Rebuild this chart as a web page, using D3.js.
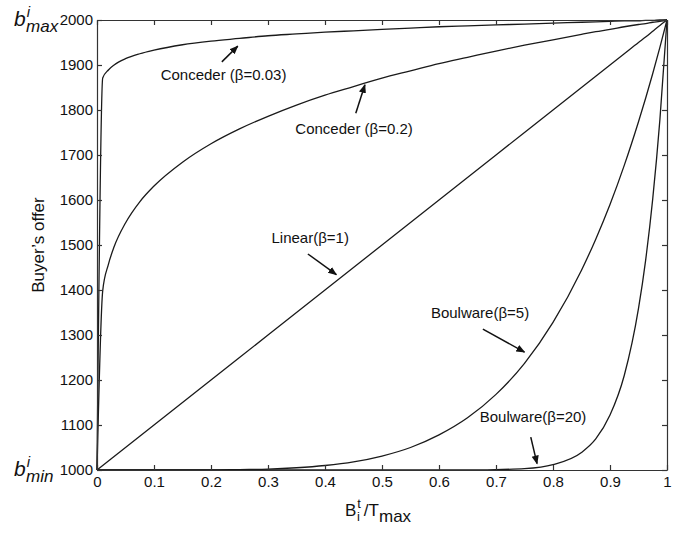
<!DOCTYPE html>
<html>
<head>
<meta charset="utf-8">
<script src="https://cdn.jsdelivr.net/npm/d3@7"></script>
<style>
  body { margin: 0; background: #fff; }
  svg { font-family: "Liberation Sans", Arial, Helvetica, sans-serif; }
  .tick text { font-size: 15px; fill: #111; }
  .axis path, .axis line { stroke: #333; stroke-width: 1.2; }
</style>
</head>
<body>
<svg width="688" height="534"></svg>
<script>
// time fraction B_i^t / T_max (sample points)
const ts = [0, 0.01, 0.02, 0.03, 0.05, 0.075, 0.1, 0.15, 0.2, 0.25, 0.3, 0.35, 0.4, 0.45, 0.5,
  0.55, 0.6, 0.65, 0.7, 0.75, 0.8, 0.85, 0.875, 0.9, 0.925, 0.95, 0.9625, 0.975, 0.9875, 1];

// buyer's offer
const conceder003 = [1000, 1871, 1889, 1900, 1914, 1925, 1933, 1945, 1953, 1959, 1965, 1969, 1973, 1976, 1979,
  1982, 1985, 1987, 1989, 1991, 1993, 1995, 1996, 1997, 1998, 1998, 1999, 1999, 2000, 2000];
const conceder02 = [1000, 1398, 1457, 1496, 1549, 1596, 1631, 1684, 1725, 1758, 1786, 1811, 1833, 1852, 1871,
  1887, 1903, 1917, 1931, 1944, 1956, 1968, 1974, 1979, 1985, 1990, 1992, 1995, 1997, 2000];
const linear1 = [1000, 1010, 1020, 1030, 1050, 1075, 1100, 1150, 1200, 1250, 1300, 1350, 1400, 1450, 1500,
  1550, 1600, 1650, 1700, 1750, 1800, 1850, 1875, 1900, 1925, 1950, 1962, 1975, 1988, 2000];
const boulware5 = [1000, 1000, 1000, 1000, 1000, 1000, 1000, 1000, 1000, 1001, 1002, 1005, 1010, 1018, 1031,
  1050, 1078, 1116, 1168, 1237, 1328, 1444, 1513, 1590, 1677, 1774, 1826, 1881, 1939, 2000];
const boulware20 = [1000, 1000, 1000, 1000, 1000, 1000, 1000, 1000, 1000, 1000, 1000, 1000, 1000, 1000, 1000,
  1000, 1000, 1000, 1001, 1003, 1012, 1039, 1069, 1122, 1210, 1359, 1466, 1603, 1778, 2000];

const xTicks = [0, 0.1, 0.2, 0.3, 0.4, 0.5, 0.6, 0.7, 0.8, 0.9, 1];
const yTicks = [1000, 1100, 1200, 1300, 1400, 1500, 1600, 1700, 1800, 1900, 2000];

// annotation: label centre and arrow (from -> to), in data units
const notes = [
  { text: "Conceder (\u03b2=0.03)", x: 0.222, y: 1878, ax: [0.219, 1907], bx: [0.247, 1942] },
  { text: "Conceder (\u03b2=0.2)", x: 0.451, y: 1760, ax: [0.454, 1793], bx: [0.470, 1856] },
  { text: "Linear(\u03b2=1)", x: 0.374, y: 1516, ax: [0.370, 1480], bx: [0.420, 1434] },
  { text: "Boulware(\u03b2=5)", x: 0.672, y: 1349, ax: [0.677, 1313], bx: [0.750, 1262] },
  { text: "Boulware(\u03b2=20)", x: 0.765, y: 1118, ax: [0.761, 1073], bx: [0.772, 1014] },
];

const svg = d3.select("svg");
const margin = { left: 97, right: 21, top: 20, bottom: 64 };
const W = 688, H = 534;

const x = d3.scaleLinear().domain([0, 1]).range([margin.left, W - margin.right]);
const y = d3.scaleLinear().domain([1000, 2000]).range([H - margin.bottom, margin.top]);

// arrow marker
svg.append("defs").append("marker")
  .attr("id", "arrow")
  .attr("viewBox", "0 0 10 10")
  .attr("refX", 9).attr("refY", 5)
  .attr("markerWidth", 9).attr("markerHeight", 9)
  .attr("markerUnits", "userSpaceOnUse")
  .attr("orient", "auto")
  .append("path")
  .attr("d", "M0,1 L10,5 L0,9 Z")
  .attr("fill", "#111");

// curves
const line = d3.line()
  .x((d, i) => x(ts[i]))
  .y((d) => y(d))
  .curve(d3.curveMonotoneX);

[conceder003, conceder02, linear1, boulware5, boulware20].forEach((s) => {
  svg.append("path")
    .attr("d", line(s))
    .attr("fill", "none")
    .attr("stroke", "#1a1a1a")
    .attr("stroke-width", 1.3);
});

// axes (ticks point inward, box all round)
svg.append("g").attr("class", "axis")
  .attr("transform", `translate(0,${y(1000)})`)
  .call(d3.axisBottom(x).tickValues(xTicks).tickSize(-5).tickSizeOuter(0).tickPadding(6)
    .tickFormat(d3.format("")));
svg.append("g").attr("class", "axis")
  .attr("transform", `translate(0,${y(2000)})`)
  .call(d3.axisTop(x).tickValues(xTicks).tickSize(-5).tickSizeOuter(0).tickFormat(""));
svg.append("g").attr("class", "axis")
  .attr("transform", `translate(${x(0)},0)`)
  .call(d3.axisLeft(y).tickValues(yTicks).tickSize(-5).tickSizeOuter(0).tickPadding(4)
    .tickFormat(d3.format("d")));
svg.append("g").attr("class", "axis")
  .attr("transform", `translate(${x(1)},0)`)
  .call(d3.axisRight(y).tickValues(yTicks).tickSize(-5).tickSizeOuter(0).tickFormat(""));

svg.selectAll(".axis .tick line").attr("stroke", "#333");

// annotations
notes.forEach((n) => {
  svg.append("text")
    .attr("x", x(n.x)).attr("y", y(n.y))
    .attr("text-anchor", "middle")
    .attr("dominant-baseline", "central")
    .attr("font-size", 15)
    .attr("fill", "#111")
    .text(n.text);
  svg.append("line")
    .attr("x1", x(n.ax[0])).attr("y1", y(n.ax[1]))
    .attr("x2", x(n.bx[0])).attr("y2", y(n.bx[1]))
    .attr("stroke", "#111")
    .attr("stroke-width", 1.5)
    .attr("marker-end", "url(#arrow)");
});

// y axis title
svg.append("text")
  .attr("transform", `translate(44,245) rotate(-90)`)
  .attr("text-anchor", "middle")
  .attr("font-size", 17)
  .attr("fill", "#111")
  .text("Buyer\u2019s offer");

// b^i_max and b^i_min labels
function bLabel(sub, yv) {
  const t = svg.append("text")
    .attr("x", 14).attr("y", y(yv) + 6)
    .attr("font-size", 21)
    .attr("font-style", "italic")
    .attr("fill", "#111");
  t.append("tspan").text("b");
  t.append("tspan").attr("dx", 1).attr("dy", -9).attr("font-size", 15).text("i");
  t.append("tspan").attr("dx", -4).attr("dy", 15).attr("font-size", 17).text(sub);
}
bLabel("max", 2000);
bLabel("min", 1000);

// x axis title: B_i^t / T_max
const xt = svg.append("text")
  .attr("x", 345).attr("y", 516)
  .attr("font-size", 17)
  .attr("fill", "#111");
xt.append("tspan").text("B");
xt.append("tspan").attr("dx", 1).attr("dy", -8).attr("font-size", 13).text("t");
xt.append("tspan").attr("dx", -4).attr("dy", 13).attr("font-size", 13).text("i");
xt.append("tspan").attr("dx", 4).attr("dy", -5).text("/T");
xt.append("tspan").attr("dy", 6).text("max");
</script>
</body>
</html>
